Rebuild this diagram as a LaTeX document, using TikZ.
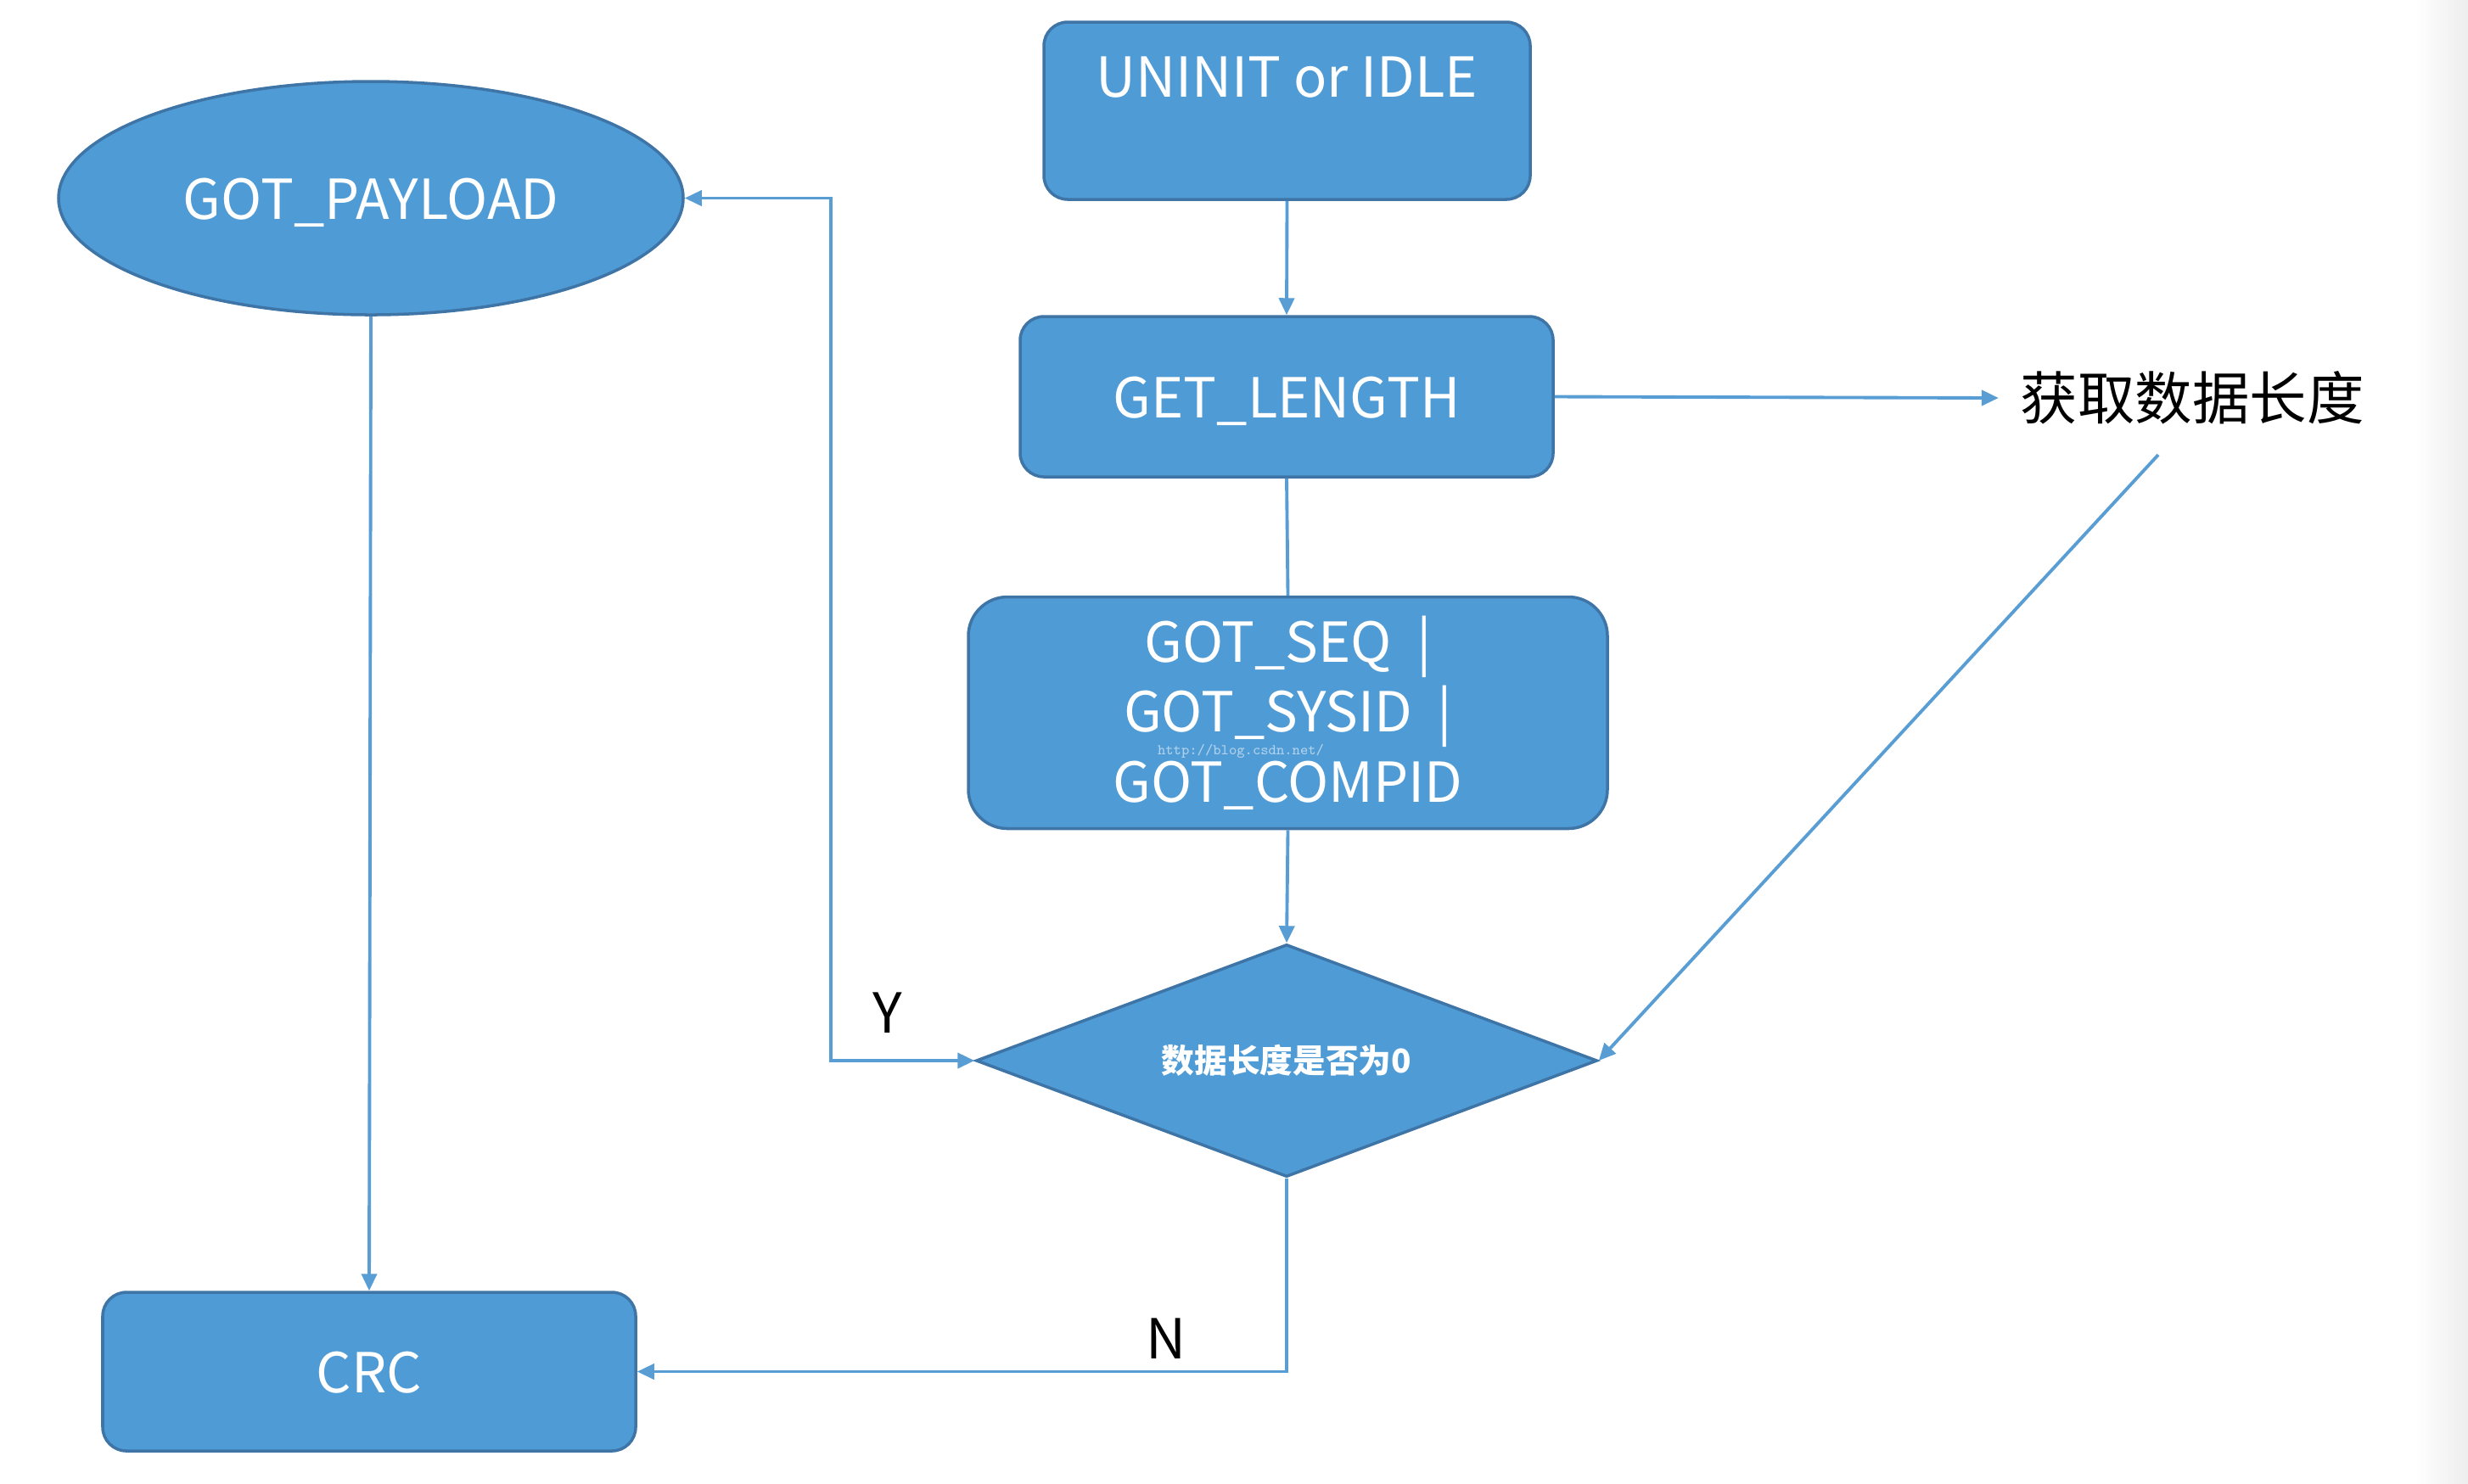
\documentclass[tikz,border=0pt]{standalone}
\usepackage{fontspec}
\setmainfont{Noto Sans CJK SC}
\usetikzlibrary{shapes.geometric,arrows.meta}
\definecolor{boxfill}{RGB}{79,155,213}
\definecolor{boxedge}{RGB}{62,117,166}
\definecolor{linec}{RGB}{88,157,212}
\begin{document}
\begin{tikzpicture}[
  every node/.style={inner sep=0pt},
  blk/.style={draw=boxedge, fill=boxfill, line width=1pt, rounded corners=0.28cm},
  wtext/.style={text=white, font=\fontsize{18.5}{23.5}\selectfont},
  ctext/.style={text height=0.52cm, text depth=0.03cm},
  conn/.style={draw=linec, line width=1.1pt, -{Triangle[length=0.2cm,width=0.18cm]}},
  plainconn/.style={draw=linec, line width=1.1pt},
  lbl/.style={text=black, font=\fontsize{18.5}{22}\selectfont}
]
\useasboundingbox (0,0) rectangle (29.08,-17.48);
\shade[left color=white, right color=black!7] (28.45,0) rectangle (29.08,-17.48);

% boxes
\node[blk, minimum width=5.73cm, minimum height=2.09cm] (uninit) at (15.165,-1.305) {};
\node[wtext] (uninittext) at (15.165,-0.91) {UNINIT or IDLE};

\node[blk, minimum width=6.28cm, minimum height=1.89cm, wtext, ctext] (getlen) at (15.16,-4.675) {GET\_LENGTH};

\node[blk, rounded corners=0.46cm, minimum width=7.53cm, minimum height=2.73cm, wtext, align=center] (seq) at (15.175,-8.4)
  {GOT\_SEQ\ \ |\\GOT\_SYSID\ \ |\\GOT\_COMPID};
\node[text=white!55!boxfill, font=\ttfamily\fontsize{5}{6}\selectfont] (wm) at (14.62,-8.85) {http://blog.csdn.net/};

\node[diamond, aspect=2.67, draw=boxedge, fill=boxfill, line width=1pt, minimum width=7.32cm, minimum height=2.74cm,
      text=white, font=\bfseries\fontsize{11}{13}\selectfont] (dia) at (15.16,-12.5) {数据长度是否为0};

\node[ellipse, draw=boxedge, fill=boxfill, line width=1pt, minimum width=7.36cm, minimum height=2.75cm, wtext, ctext] (payload) at (4.37,-2.335) {GOT\_PAYLOAD};

\node[blk, minimum width=6.28cm, minimum height=1.87cm, wtext, ctext] (crc) at (4.35,-16.165) {CRC};

\node[text=black, font=\fontsize{19.2}{22}\selectfont, inner sep=0.25cm] (info) at (25.83,-4.69) {获取数据长度};
\coordinate (diagstart) at (25.43,-5.36);

% connectors
\draw[conn] (uninit.south) -- (getlen.north);
\draw[plainconn] (getlen.south) -- (seq.north);
\draw[conn] (seq.south) -- (dia.north);
\draw[conn] (getlen.east) -- (info.west);
\draw[conn] (diagstart) -- (dia.east);
\draw[conn, {Triangle[length=0.2cm,width=0.18cm]}-{Triangle[length=0.2cm,width=0.18cm]}] (payload.east) -- ++(1.72,0) |- (dia.west);
\draw[conn] (dia.south) |- (crc.east);
\draw[conn] (payload.south) -- (crc.north);

% labels
\node[lbl] (ylbl) at (10.46,-11.94) {Y};
\node[lbl] (nlbl) at (13.74,-15.78) {N};
\end{tikzpicture}
\end{document}
